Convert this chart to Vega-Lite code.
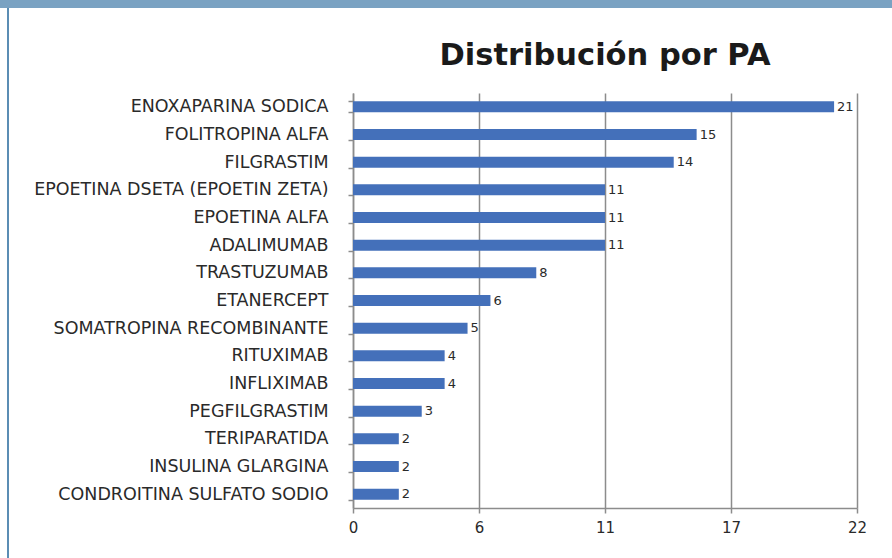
{
  "$schema": "https://vega.github.io/schema/vega-lite/v6.json",
  "padding": 0,
  "background": "white",
  "spacing": 0,
  "config": {"view": {"stroke": null}, "concat": {"spacing": 0}},
  "vconcat": [
    {
      "width": 892,
      "height": 8,
      "data": {"values": [{}]},
      "view": {"fill": "#7AA2C2", "stroke": null},
      "mark": {"type": "rect", "color": "#7AA2C2"},
      "encoding": {}
    },
    {
      "spacing": 0,
      "align": "each",
      "hconcat": [
        {
          "width": 7,
          "height": 550,
          "data": {"values": [{}]},
          "mark": {"type": "rect", "opacity": 0},
          "encoding": {}
        },
        {
          "width": 2,
          "height": 550,
          "data": {"values": [{}]},
          "view": {"fill": "#5B8DB4", "stroke": null},
          "mark": {"type": "rect", "color": "#5B8DB4"},
          "encoding": {}
        },
        {
          "width": 24,
          "height": 550,
          "data": {"values": [{}]},
          "mark": {"type": "rect", "opacity": 0},
          "encoding": {}
        },
        {
          "spacing": 0,
          "vconcat": [
            {
              "width": 10,
              "height": 32,
              "data": {"values": [{}]},
              "mark": {"type": "rect", "opacity": 0},
              "encoding": {}
            },
            {
              "width": 504,
              "height": 415,
              "title": {
                "text": "Distribución por PA",
                "font": "DejaVu Sans",
                "fontSize": 30.5,
                "fontWeight": "bold",
                "color": "#1a1a1a",
                "anchor": "middle",
                "offset": 13
              },
              "data": {
                "values": [
                  {"pa": "ENOXAPARINA SODICA", "n": 21},
                  {"pa": "FOLITROPINA ALFA", "n": 15},
                  {"pa": "FILGRASTIM", "n": 14},
                  {"pa": "EPOETINA DSETA (EPOETIN ZETA)", "n": 11},
                  {"pa": "EPOETINA ALFA", "n": 11},
                  {"pa": "ADALIMUMAB", "n": 11},
                  {"pa": "TRASTUZUMAB", "n": 8},
                  {"pa": "ETANERCEPT", "n": 6},
                  {"pa": "SOMATROPINA RECOMBINANTE", "n": 5},
                  {"pa": "RITUXIMAB", "n": 4},
                  {"pa": "INFLIXIMAB", "n": 4},
                  {"pa": "PEGFILGRASTIM", "n": 3},
                  {"pa": "TERIPARATIDA", "n": 2},
                  {"pa": "INSULINA GLARGINA", "n": 2},
                  {"pa": "CONDROITINA SULFATO SODIO", "n": 2}
                ]
              },
              "encoding": {
                "y": {
                  "field": "pa",
                  "type": "nominal",
                  "sort": null,
                  "scale": {"paddingInner": 0.6, "paddingOuter": 0.3},
                  "axis": {
                    "title": null,
                    "domainColor": "#8c8c8c",
                    "domainWidth": 1.5,
                    "tickColor": "#8c8c8c",
                    "tickWidth": 1.5,
                    "tickSize": 5,
                    "tickBand": "extent",
                    "labelPadding": 20,
                    "labelFont": "DejaVu Sans",
                    "labelFontSize": 17.5,
                    "labelColor": "#2a2a2a",
                    "labelLimit": 400
                  }
                },
                "x": {
                  "field": "n",
                  "type": "quantitative",
                  "scale": {"domain": [0, 22], "nice": false},
                  "axis": {
                    "title": null,
                    "values": [0, 5.5, 11, 16.5, 22],
                    "labelExpr": "round(datum.value)",
                    "labelFlush": false,
                    "grid": true,
                    "gridColor": "#8c8c8c",
                    "gridWidth": 1.5,
                    "domainColor": "#8c8c8c",
                    "domainWidth": 1.5,
                    "tickColor": "#8c8c8c",
                    "tickWidth": 1.5,
                    "tickSize": 5,
                    "labelPadding": 7,
                    "labelFont": "DejaVu Sans",
                    "labelFontSize": 15,
                    "labelColor": "#2a2a2a"
                  }
                }
              },
              "layer": [
                {"mark": {"type": "bar", "color": "#4470BA"}},
                {
                  "mark": {"type": "text", "align": "left", "dx": 3, "font": "DejaVu Sans", "fontSize": 13, "color": "#2a2a2a"},
                  "encoding": {"text": {"field": "n", "type": "quantitative"}}
                }
              ]
            }
          ]
        }
      ]
    }
  ]
}
